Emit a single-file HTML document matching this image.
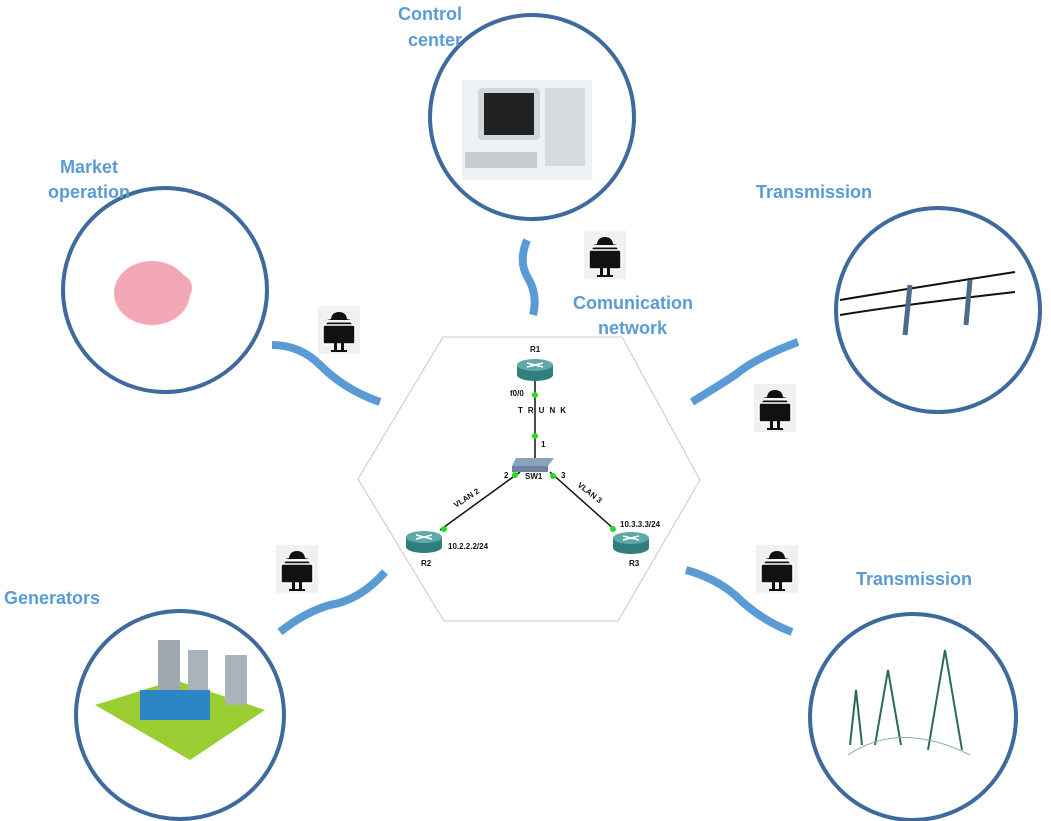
<!DOCTYPE html>
<html><head><style>body{margin:0;background:#fff}svg{display:block}text{font-family:"Liberation Sans",sans-serif}</style></head><body>
<svg width="1051" height="821" viewBox="0 0 1051 821" xmlns="http://www.w3.org/2000/svg">
<defs>
<g id="hk">
<rect x="0" y="0" width="42" height="48" fill="#f1f1f1"/>
<path d="M13 13 Q14 6 21 6 Q28 6 29 13 L33 14 L9 14 Z" fill="#111"/>
<rect x="8" y="16" width="26" height="18" rx="2" fill="#111" stroke="#fff" stroke-width="1"/>
<rect x="5" y="19" width="32" height="19" rx="2" fill="#111" stroke="#fff" stroke-width="1.5"/>
<rect x="16" y="30" width="3" height="15" fill="#111"/><rect x="23" y="30" width="3" height="15" fill="#111"/>
<rect x="13" y="44" width="16" height="2" fill="#111"/>
</g>
<g id="rt">
<path d="M-18 -5 V5 A18 6 0 0 0 18 5 V-5" fill="#2f7f7f"/>
<ellipse cx="0" cy="-5" rx="18" ry="6" fill="#5fa8a8"/>
<path d="M-8 -7 L8 -3 M-8 -3 L8 -7" stroke="#fff" stroke-width="1.5"/>
</g>
</defs>
<g fill="none" stroke="#3e6a9e" stroke-width="4">
<circle cx="532" cy="117" r="102"/>
<circle cx="165" cy="290" r="102"/>
<circle cx="938" cy="310" r="102"/>
<circle cx="180" cy="715" r="104"/>
<circle cx="913" cy="717" r="103"/>
</g>
<rect x="462" y="80" width="130" height="100" fill="#eef2f5"/>
<rect x="478" y="88" width="62" height="52" rx="4" fill="#cfd6dc"/><rect x="484" y="93" width="50" height="42" fill="#222"/>
<rect x="545" y="88" width="40" height="78" fill="#d7dbe0"/>
<rect x="465" y="152" width="72" height="16" fill="#c8cdd3"/>
<ellipse cx="152" cy="293" rx="38" ry="32" fill="#f2a8b4"/><circle cx="178" cy="288" r="14" fill="#f2a8b4"/>
<path d="M840 300 Q900 290 1015 272 M840 315 Q900 305 1015 292" stroke="#111" stroke-width="2" fill="none"/>
<path d="M910 285 L905 335 M970 280 L966 325" stroke="#4d6a8a" stroke-width="5"/>
<polygon points="95,705 175,680 265,710 190,760" fill="#9acd32"/>
<rect x="158" y="640" width="22" height="55" fill="#9fa8b0"/><rect x="188" y="650" width="20" height="50" fill="#aab2ba"/><rect x="225" y="655" width="22" height="50" fill="#aab2ba"/>
<rect x="140" y="690" width="70" height="30" fill="#2d86c4"/>
<g stroke="#2b6a5a" stroke-width="2" fill="none"><path d="M928 750 L945 650 L962 750 M850 745 L856 690 L862 745 M875 745 L888 670 L901 745"/></g>
<path d="M848 755 Q900 720 970 755" stroke="#8ab" fill="none"/>
<g fill="none" stroke="#5b9bd5" stroke-width="8">
<path d="M527 240 Q518 262 528 278 Q538 295 533 315"/>
<path d="M272 345 Q300 345 320 365 Q345 390 380 402"/>
<path d="M692 402 Q720 385 735 375 Q755 358 798 342"/>
<path d="M280 632 Q305 612 330 605 Q360 600 385 572"/>
<path d="M686 570 Q715 578 735 595 Q760 620 792 632"/>
</g>
<use href="#hk" x="584" y="231"/><use href="#hk" x="318" y="306"/><use href="#hk" x="754" y="384"/><use href="#hk" x="276" y="545"/><use href="#hk" x="756" y="545"/>
<polygon points="443,337 622,337 700,480 618,621 444,621 358,479" fill="none" stroke="#c8c8c8" stroke-width="1"/>
<g stroke="#111" stroke-width="1.5"><line x1="535" y1="380" x2="535" y2="458"/><line x1="520" y1="472" x2="440" y2="530"/><line x1="550" y1="472" x2="615" y2="530"/></g>
<use href="#rt" x="535" y="370"/><use href="#rt" x="424" y="542"/><use href="#rt" x="631" y="543"/>
<polygon points="516,458 554,458 548,466 512,466" fill="#8da3bd"/><rect x="512" y="466" width="36" height="6" fill="#6c84a0"/>
<g fill="#22dd22"><circle cx="535" cy="395" r="3"/><circle cx="535" cy="436" r="3"/><circle cx="515" cy="475" r="3"/><circle cx="553" cy="476" r="3"/><circle cx="444" cy="529" r="3"/><circle cx="613" cy="529" r="3"/></g>
<g font-size="8" font-weight="bold" fill="#111">
<text x="530" y="352">R1</text><text x="510" y="396">f0/0</text><text x="518" y="413" letter-spacing="5">TRUNK</text>
<text x="541" y="447">1</text><text x="504" y="478">2</text><text x="525" y="479">SW1</text><text x="561" y="478">3</text>
<text x="448" y="549">10.2.2.2/24</text><text x="620" y="527">10.3.3.3/24</text>
<text x="421" y="566">R2</text><text x="629" y="566">R3</text>
<text transform="translate(456 508) rotate(-33)">VLAN 2</text>
<text transform="translate(577 486) rotate(38)">VLAN 3</text>
</g>
<g font-size="18" font-weight="bold" fill="#5b9bd5">
<text x="398" y="20">Control</text><text x="408" y="46">center</text>
<text x="60" y="173">Market</text><text x="48" y="198">operation</text>
<text x="756" y="198">Transmission</text>
<text x="573" y="309">Comunication</text><text x="598" y="334">network</text>
<text x="4" y="604">Generators</text>
<text x="856" y="585">Transmission</text>
</g>
</svg>
</body></html>
